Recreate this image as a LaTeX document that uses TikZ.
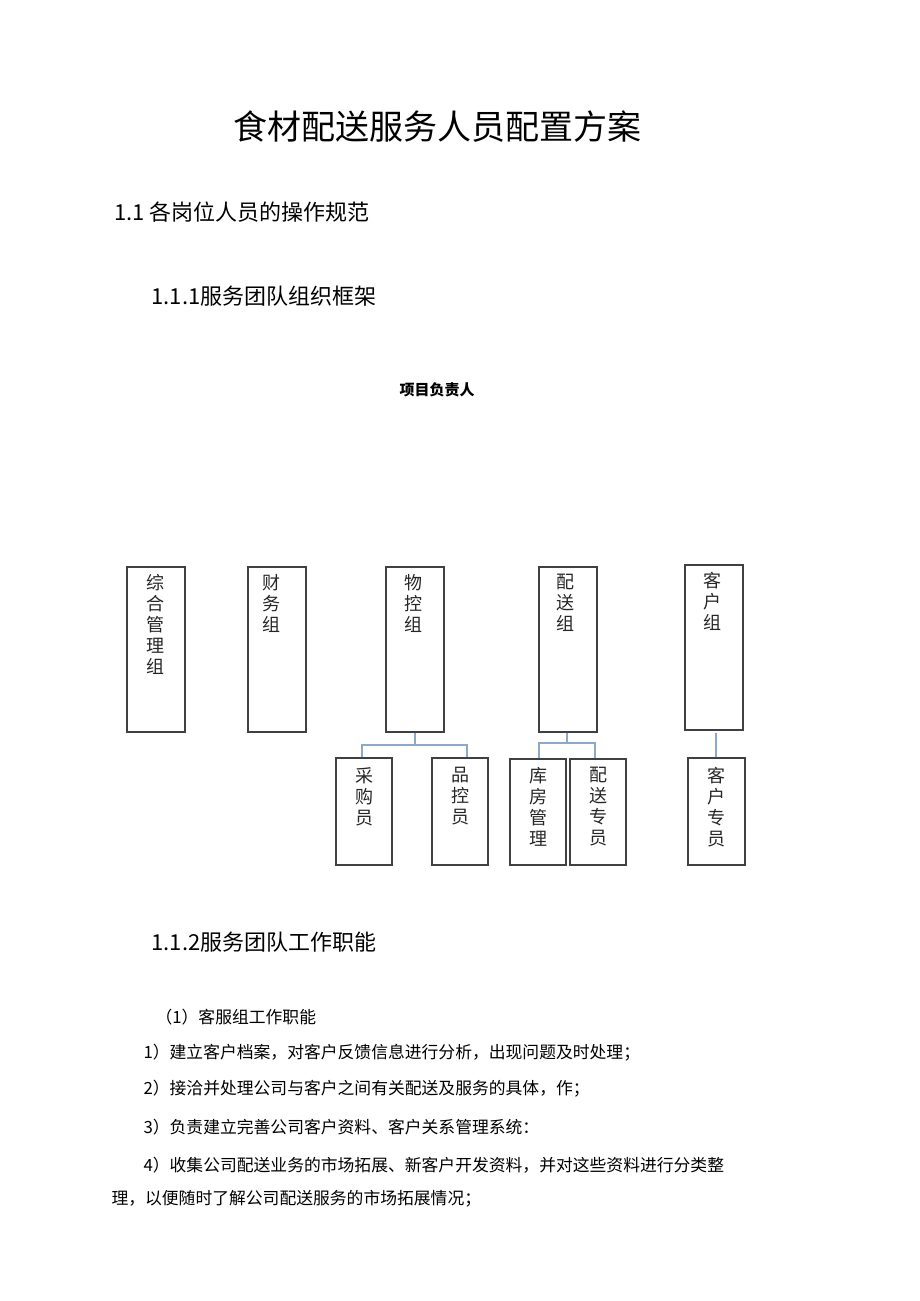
\documentclass[tikz,border=0pt]{standalone}
\usepackage{fontspec}
\setmainfont{Noto Sans CJK SC}
\definecolor{connc}{HTML}{8DA9C8}
\begin{document}
\begin{tikzpicture}[x=1pt,y=-1pt,
  box/.style={draw=black!75,line width=1.2pt,inner sep=0pt},
  lbl/.style={anchor=north,font=\fontsize{18}{21}\selectfont,align=center,text=black!85},
  conn/.style={draw=connc,line width=2pt},
  body/.style={anchor=west,font=\fontsize{16.8}{19}\selectfont}]
\useasboundingbox (0,0) rectangle (920,1301);
\node (t) at (437,127) {\fontsize{34}{38}\selectfont 食材配送服务人员配置方案};
\node[anchor=west] (h1) at (111,212) {\fontsize{22}{25}\selectfont 1.1\ 各岗位人员的操作规范};
\node[anchor=west] (h2) at (148,296) {\fontsize{22}{25}\selectfont 1.1.1服务团队组织框架};
\node (p) at (437,390) {\fontsize{15}{18}\selectfont\bfseries 项目负责人};
% top boxes
\draw[box] (127,567) rectangle (185,732); \node[lbl] (a) at (155,571) {综\\合\\管\\理\\组};
\draw[box] (248,567) rectangle (306,732); \node[lbl] (b) at (271,571) {财\\务\\组};
\draw[box] (386,567) rectangle (444,732); \node[lbl] (c) at (413,571) {物\\控\\组};
\draw[box] (539,567) rectangle (597,732); \node[lbl] (d) at (565,571) {配\\送\\组};
\draw[box] (685,565) rectangle (743,730); \node[lbl] (e) at (712,569) {客\\户\\组};
% children
\draw[box] (336,758) rectangle (392,865); \node[lbl] (c1) at (364,764) {采\\购\\员};
\draw[box] (432,758) rectangle (488,865); \node[lbl] (c2) at (460,764) {品\\控\\员};
\draw[box] (510,759) rectangle (566,865); \node[lbl] (d1) at (538,764) {库\\房\\管\\理};
\draw[box] (570,759) rectangle (626,865); \node[lbl] (d2) at (598,764) {配\\送\\专\\员};
\draw[box,line width=1.6pt] (688,758) rectangle (745,865); \node[lbl] (e1) at (716,764) {客\\户\\专\\员};
% connectors
\coordinate (cb) at (415,733); \coordinate (c1t) at (362,757); \coordinate (c2t) at (467,757);
\draw[conn] (cb) -- (415,745) -| (c1t); \draw[conn] (415,745) -| (c2t);
\coordinate (db) at (567,733); \coordinate (d1t) at (539,758); \coordinate (d2t) at (595,758);
\draw[conn] (db) -- (567,743) -| (d1t); \draw[conn] (567,743) -| (d2t);
\coordinate (eb) at (716,733); \coordinate (e1t) at (716,757);
\draw[conn] (eb) -- (e1t);
\node[anchor=west] (h3) at (148,942) {\fontsize{22}{25}\selectfont 1.1.2服务团队工作职能};
\node[body] (l0) at (152,1017) {（1）客服组工作职能};
\node[body] (l1) at (140,1053) {1）建立客户档案，对客户反馈信息进行分析，出现问题及时处理；};
\node[body] (l2) at (140,1089) {2）接洽并处理公司与客户之间有关配送及服务的具体，作；};
\node[body] (l3) at (140,1127) {3）负责建立完善公司客户资料、客户关系管理系统：};
\node[body] (l4) at (140,1165) {4）收集公司配送业务的市场拓展、新客户开发资料，并对这些资料进行分类整};
\node[body] (l5) at (108,1199) {理，以便随时了解公司配送服务的市场拓展情况；};
\end{tikzpicture}
\end{document}
